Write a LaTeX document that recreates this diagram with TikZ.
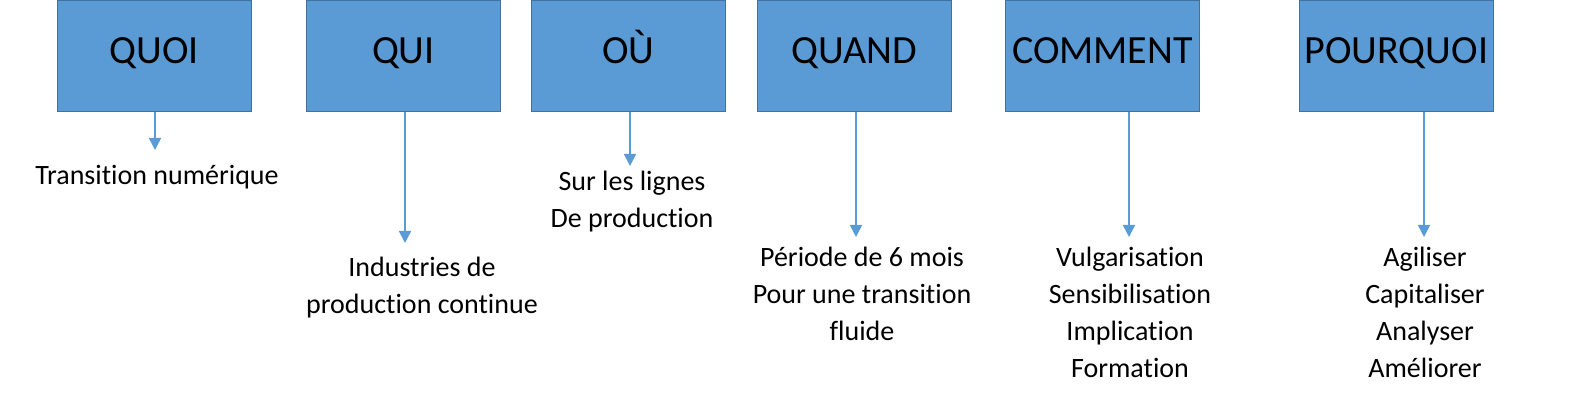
\documentclass[tikz,border=0pt]{standalone}
\usepackage{fontspec}
\setmainfont[Ligatures={NoCommon}]{Carlito}
\usetikzlibrary{arrows.meta}
\definecolor{boxblue}{HTML}{5B9BD5}
\definecolor{boxedge}{HTML}{41719C}
\tikzset{
  hbox/.style={draw=boxedge,fill=boxblue,line width=0.8pt,minimum width=194pt,minimum height=111pt,inner sep=0pt,text height=30pt,text depth=14pt,anchor=north west,font=\fontsize{40}{46}\selectfont},
  lbl/.style={align=center,font=\fontsize{28}{37}\selectfont,anchor=north,inner sep=0pt},
  arr/.style={draw=boxblue,line width=1.6pt,-{Triangle[length=12pt,width=12pt]}}
}
\begin{document}
\begin{tikzpicture}[x=1pt,y=-1pt]
\useasboundingbox (0,0) rectangle (1572,414);
\node[hbox] (b1) at (57,0) {QUOI};
\node[hbox] (b2) at (306,0) {QUI};
\node[hbox] (b3) at (531,0) {OÙ};
\node[hbox] (b4) at (757,0) {QUAND};
\node[hbox] (b5) at (1005,0) {COMMENT};
\node[hbox] (b6) at (1299,0) {POURQUOI};
\coordinate (e1) at (155,150);
\coordinate (e2) at (405,243);
\coordinate (e3) at (630,166);
\coordinate (e4) at (856,237);
\coordinate (e5) at (1129,237);
\coordinate (e6) at (1424,237);
\node[lbl] (t1) at (157,165) {Transition numérique};
\node[lbl] (t2) at (422,257) {Industries de\\production continue};
\node[lbl] (t3) at (632,171) {Sur les lignes\\De production};
\node[lbl] (t4) at (862,247) {Période de 6 mois\\Pour une transition\\fluide};
\node[lbl] (t5) at (1130,247) {Vulgarisation\\Sensibilisation\\Implication\\Formation};
\node[lbl] (t6) at (1425,247) {Agiliser\\Capitaliser\\Analyser\\Améliorer};
\draw[arr] (b1.south -| e1) -- (e1);
\draw[arr] (b2.south -| e2) -- (e2);
\draw[arr] (b3.south -| e3) -- (e3);
\draw[arr] (b4.south -| e4) -- (e4);
\draw[arr] (b5.south -| e5) -- (e5);
\draw[arr] (b6.south -| e6) -- (e6);
\end{tikzpicture}
\end{document}
